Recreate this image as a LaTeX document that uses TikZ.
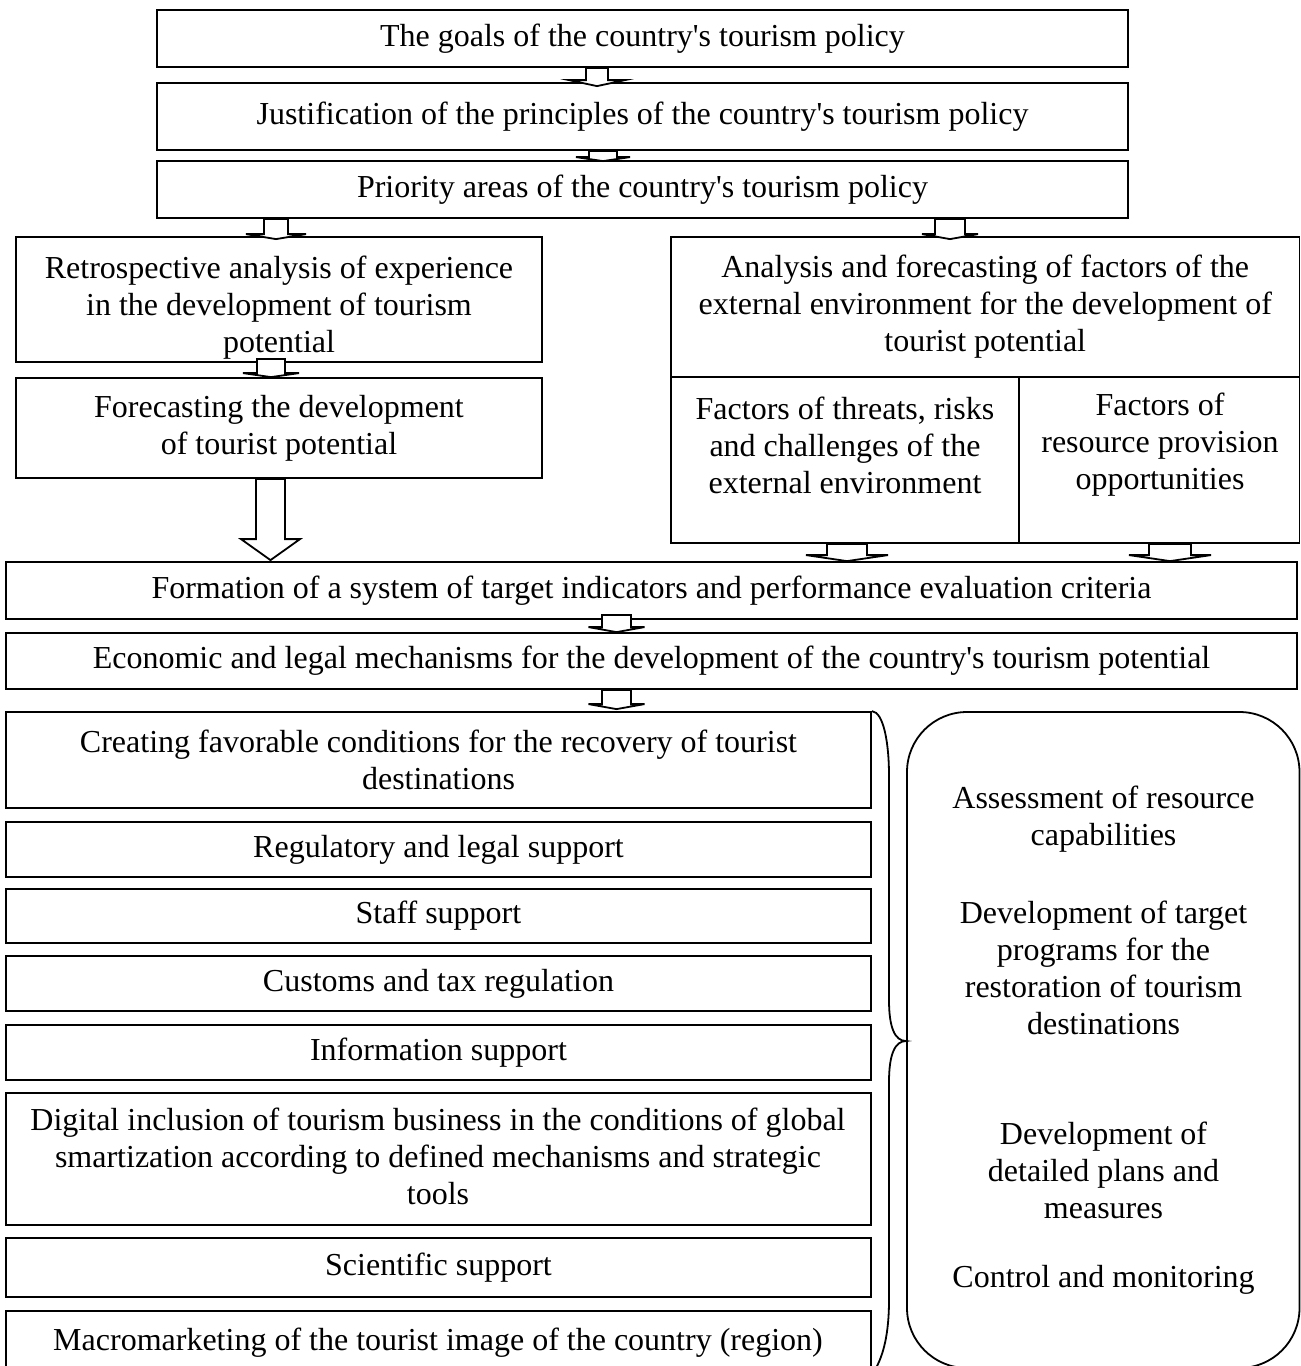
\documentclass[tikz,border=0pt]{standalone}
\usepackage{fontspec}
\newfontfamily\tnr{Liberation Serif}
\usetikzlibrary{calc}
\tikzset{
  box/.style={draw, line width=0.9pt, inner sep=0pt, align=center, font=\tnr\fontsize{16}{18.5}\selectfont},
  txt/.style={inner sep=0pt, align=center, font=\tnr\fontsize{16}{18.5}\selectfont},
  barrow/.style={draw, fill=white, line width=0.9pt, line join=miter},
  brace/.style={draw, line width=0.9pt}
}
% #1 style extra, #2 name, #3 x1, #4 y1, #5 x2, #6 y2, #7 text
\newcommand\bx[7][]{%
  \node[box, #1, minimum width={(#5-#3)*0.5pt}, minimum height={(#6-#4)*0.5pt}]
    (#2) at ({(#3+#5)/2},{(#4+#6)/2}) {#7};}
\newcommand\barr[5]{%
  \draw[barrow] ($(#1)+(-#3,0)$) -- ($(#2)+(-#3,-#5)$) -- ($(#2)+(-#4,-#5)$) -- (#2)
    -- ($(#2)+(#4,-#5)$) -- ($(#2)+(#3,-#5)$) -- ($(#1)+(#3,0)$) -- cycle;}
\begin{document}
\begin{tikzpicture}[x=0.5pt,y=-0.5pt]
\useasboundingbox (0,0) rectangle (1301,1366);
% top chain
\bx{b1}{157}{10}{1128}{67}{The goals of the country's tourism policy}
\bx{b2}{157}{83}{1128}{150}{Justification of the principles of the country's tourism policy}
\bx{b3}{157}{161}{1128}{218}{Priority areas of the country's tourism policy}
% left column
\bx{b4}{16}{237}{542}{362}{}
\node[txt] (t4) at (279,308) {Retrospective analysis of experience\\in the development of tourism\\potential};
\bx{b5}{16}{378}{542}{478}{Forecasting the development\\of tourist potential}
% right block
\bx{rt}{671}{237}{1299.5}{377}{Analysis and forecasting of factors of the\\external environment for the development of\\tourist potential}
\bx{rl}{671}{377}{1019}{543}{}
\node[txt] (trl) at (845,445) {Factors of threats, risks\\and challenges of the\\external environment};
\bx{rr}{1019}{377}{1299.5}{543}{}
\node[txt] (trr) at (1160,445) {Factors of\\resource provision\\opportunities};
% middle wide boxes
\bx{fm}{6}{562}{1297}{619}{Formation of a system of target indicators and performance evaluation criteria}
\bx{ec}{6}{633}{1297}{689}{Economic and legal mechanisms for the development of the country's tourism potential}
% list
\bx{la}{6}{712}{871}{808}{Creating favorable conditions for the recovery of tourist\\destinations}
\bx{lb}{6}{822}{871}{877}{Regulatory and legal support}
\bx{lc}{6}{889}{871}{943}{Staff support}
\bx{ld}{6}{956}{871}{1011}{Customs and tax regulation}
\bx{le}{6}{1025}{871}{1080}{Information support}
\bx{lf}{6}{1093}{871}{1225}{}
\node[txt] (tlf) at (438,1156) {Digital inclusion of tourism business in the conditions of global\\smartization according to defined mechanisms and strategic\\tools};
\bx{lg}{6}{1238}{871}{1297}{Scientific support}
\bx{lh}{6}{1311}{871}{1372}{}
\node[txt] (th) at (438,1343) {Macromarketing of the tourist image of the country (region)};
% rounded box
\bx[rounded corners=30pt]{rb}{907}{712}{1299.5}{1368}{}
\node[txt] (r1) at (1103.5,819) {Assessment of resource\\capabilities};
\node[txt] (r2) at (1103.5,968) {Development of target\\programs for the\\restoration of tourism\\destinations};
\node[txt] (r3) at (1103.5,1170) {Development of\\detailed plans and\\measures};
\node[txt] (r4) at (1103.5,1280) {Control and monitoring};
% brace
\draw[brace] (la.north east) .. controls (884,712) and (889,745) .. (889,775)
  -- (889,1000) .. controls (889,1028) and (895,1041) .. (rb.west |- 0,1041)
  .. controls (895,1041) and (889,1054) .. (889,1082)
  -- (889,1300) .. controls (889,1335) and (883,1355) .. (876,1368);
% x positions for arrows
\coordinate (x597) at (597,0);
\coordinate (x603) at (603,0);
\coordinate (x276) at (276,0);
\coordinate (x950) at (950,0);
\coordinate (x271) at (271,0);
\coordinate (x270) at (270.5,0);
\coordinate (x847) at (847,0);
\coordinate (x1170) at (1170,0);
\coordinate (x616) at (616.5,0);
% arrow end points
\coordinate (a1t) at (b1.south -| x597);  \coordinate (a1b) at ($(b2.north -| x597)+(0,4)$);
\coordinate (a2t) at (b2.south -| x603);  \coordinate (a2b) at ($(b3.north -| x603)+(0,1)$);
\coordinate (a3t) at (b3.south -| x276);  \coordinate (a3b) at ($(b4.north -| x276)+(0,3)$);
\coordinate (a4t) at (b3.south -| x950);  \coordinate (a4b) at ($(rt.north -| x950)+(0,3)$);
\coordinate (a5t) at ($(b4.south -| x271)+(0,-4)$);  \coordinate (a5b) at (b5.north -| x271);
\coordinate (a6t) at (b5.south -| x270);  \coordinate (a6b) at ($(fm.north -| x270)+(0,-1)$);
\coordinate (a7t) at (rl.south -| x847);  \coordinate (a7b) at (fm.north -| x847);
\coordinate (a8t) at (rr.south -| x1170); \coordinate (a8b) at (fm.north -| x1170);
\coordinate (a9t) at ($(fm.south -| x616)+(0,-5)$);  \coordinate (a9b) at (ec.north -| x616);
\coordinate (a10t) at (ec.south -| x616); \coordinate (a10b) at ($(la.north -| x616)+(0,-2)$);
% block arrows
\barr{a1t}{a1b}{11}{28}{6}
\barr{a2t}{a2b}{14}{27}{4}
\barr{a3t}{a3b}{12}{30}{5}
\barr{a4t}{a4b}{15}{28}{5}
\barr{a5t}{a5b}{14}{28}{4}
\barr{a6t}{a6b}{14.5}{29.5}{21}
\barr{a7t}{a7b}{20}{41}{6}
\barr{a8t}{a8b}{21}{41}{6}
\barr{a9t}{a9b}{14.5}{28}{5}
\barr{a10t}{a10b}{14.5}{28}{5}
\end{tikzpicture}
\end{document}
